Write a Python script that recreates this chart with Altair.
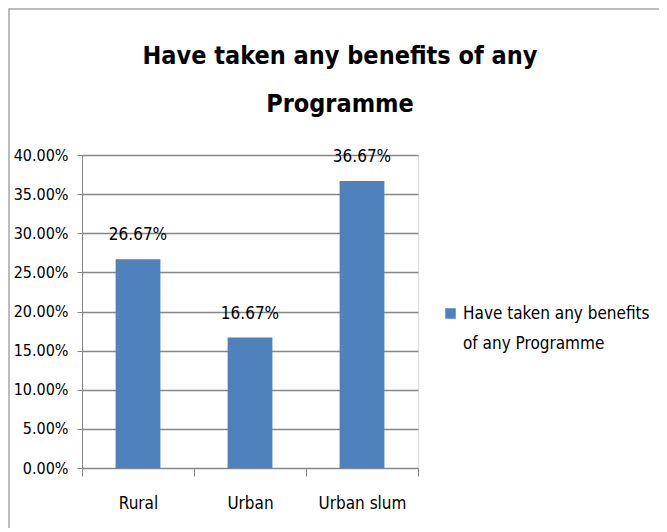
import altair as alt
import pandas as pd

categories = ["Rural", "Urban", "Urban slum"]
values = [0.2667, 0.1667, 0.3667]
series_name = "Have taken any benefits of any Programme"
y_ticks = [0.0, 0.05, 0.10, 0.15, 0.20, 0.25, 0.30, 0.35, 0.40]

df = pd.DataFrame({"category": categories, "value": values, "series": [series_name] * 3})

FONT = "DejaVu Sans Condensed"

base = alt.Chart(df).encode(
    x=alt.X("category:N", sort=categories, title=None,
            scale=alt.Scale(paddingInner=0, paddingOuter=0),
            axis=alt.Axis(labelAngle=0, labelFontSize=17, labelColor="#000000", labelFont=FONT,
                          tickBand="extent", tickSize=8, tickColor="#868686",
                          domainColor="#868686", labelPadding=19, grid=False)),
    y=alt.Y("value:Q", title=None,
            scale=alt.Scale(domain=[0, 0.4], nice=False),
            axis=alt.Axis(values=y_ticks, format=".2%", labelFontSize=16, labelFont=FONT,
                          labelColor="#000000", tickSize=5, tickColor="#868686",
                          domainColor="#868686", gridColor="#868686", gridWidth=1.3,
                          labelPadding=9, labelOverlap=False, labelBound=False)),
)

bars = base.mark_bar(color="#4F81BD", width=alt.RelativeBandSize(0.4)).encode(
    fill=alt.Fill("series:N", scale=alt.Scale(range=["#4F81BD"]),
                  legend=alt.Legend(title=None, orient="none", legendX=360, legendY=150,
                                    symbolType="square", symbolSize=110, symbolStrokeWidth=0,
                                    labelFontSize=17, labelFont=FONT, labelColor="#000000",
                                    labelLimit=300,
                                    labelExpr="['Have taken any benefits', 'of any Programme']")),
)

labels = base.mark_text(baseline="bottom", dy=-15, fontSize=17, font=FONT, color="#000000").encode(
    text=alt.Text("value:Q", format=".2%"),
)

frame = alt.Chart(pd.DataFrame({"f": [0]})).mark_rect(
    fillOpacity=0, stroke="#A6A6A6", strokeWidth=1.5
).encode(
    x=alt.value(-73), x2=alt.value(600), y=alt.value(-146), y2=alt.value(400)
)

chart = alt.layer(frame, bars, labels).properties(
    width=336,
    height=313,
    autosize=alt.AutoSizeParams(type="none"),
    padding={"left": 74, "top": 147, "right": 241, "bottom": 60},
    title=alt.TitleParams(
        text=["Have taken any benefits of any", "Programme"],
        fontSize=25, font=FONT, fontWeight="bold", color="#000000",
        anchor="middle", frame="group", dx=90, offset=-109, lineHeight=48, limit=700,
    ),
).configure_view(stroke=None).configure(
    background="white", style={"guide-label": {"lineHeight": 30}}
)

chart.save("out.html", embed_options={"renderer": "svg", "actions": False})
